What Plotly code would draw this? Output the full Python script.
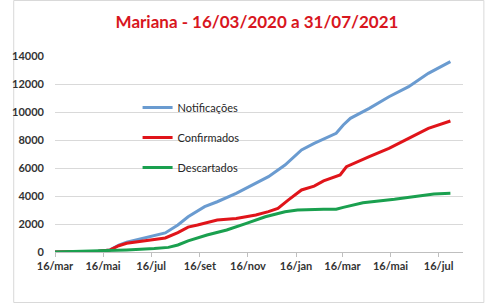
import plotly.graph_objects as go

# Notificações (blue)
dates_not = ["2020-03-16", "2020-05-10", "2020-05-25", "2020-06-05", "2020-06-15", "2020-07-13",
             "2020-08-03", "2020-08-19", "2020-09-01", "2020-09-22", "2020-10-08", "2020-11-01",
             "2020-11-17", "2020-12-12", "2021-01-02", "2021-01-23", "2021-02-08", "2021-02-20",
             "2021-03-08", "2021-03-17", "2021-03-26", "2021-04-19", "2021-05-14", "2021-06-08",
             "2021-07-03", "2021-07-31"]
notificacoes = [0, 60, 150, 500, 700, 1050,
                1360, 1930, 2520, 3240, 3590, 4190,
                4660, 5380, 6210, 7290, 7760, 8050,
                8480, 9070, 9550, 10260, 11090, 11810,
                12760, 13600]

# Confirmados (red)
dates_conf = ["2020-03-16", "2020-05-10", "2020-05-25", "2020-06-05", "2020-06-15", "2020-07-13",
              "2020-08-03", "2020-08-19", "2020-09-01", "2020-09-13", "2020-10-08", "2020-11-01",
              "2020-11-26", "2020-12-12", "2020-12-24", "2021-01-06", "2021-01-23", "2021-02-08",
              "2021-02-20", "2021-03-13", "2021-03-21", "2021-04-19", "2021-05-14", "2021-06-08",
              "2021-07-03", "2021-07-31"]
confirmados = [0, 50, 150, 450, 620, 810,
               1000, 1380, 1780, 1930, 2290, 2400,
               2640, 2880, 3120, 3710, 4430, 4710,
               5080, 5500, 6090, 6810, 7400, 8120,
               8830, 9360]

# Descartados (green)
dates_desc = ["2020-03-16", "2020-05-22", "2020-06-15", "2020-07-20", "2020-08-07", "2020-08-19",
              "2020-09-01", "2020-09-25", "2020-10-20", "2020-11-14", "2020-12-08", "2021-01-02",
              "2021-01-18", "2021-02-20", "2021-03-08", "2021-03-17", "2021-04-11", "2021-05-21",
              "2021-06-24", "2021-07-10", "2021-07-31"]
descartados = [0, 80, 150, 250, 330, 500,
               800, 1210, 1570, 2050, 2520, 2880,
               3000, 3050, 3050, 3190, 3520, 3760,
               4000, 4140, 4190]

tick_dates = ["2020-03-16", "2020-05-16", "2020-07-16", "2020-09-16", "2020-11-16",
              "2021-01-16", "2021-03-16", "2021-05-16", "2021-07-16"]
tick_labels = ["16/mar", "16/mai", "16/jul", "16/set", "16/nov", "16/jan", "16/mar", "16/mai", "16/jul"]

title_text = "Mariana - 16/03/2020 a 31/07/2021"

W, H = 485, 303
ml, mr, mt, mb = 43, 22, 56, 51
pw, ph = W - ml - mr, H - mt - mb

fig = go.Figure()
series = [
    ("Notificações", dates_not, notificacoes, "#6A9BD0"),
    ("Confirmados", dates_conf, confirmados, "#E0141A"),
    ("Descartados", dates_desc, descartados, "#1AA04F"),
]
for name, xs, ys, col in series:
    fig.add_trace(go.Scatter(x=xs, y=ys, mode="lines", name=name, legendgroup=name,
                             line=dict(color=col, width=3)))

fig.update_layout(
    width=W, height=H,
    margin=dict(l=ml, r=mr, t=mt, b=mb),
    paper_bgcolor="white", plot_bgcolor="white",
    font=dict(family="Lato, Open Sans, sans-serif", color="#404040"),
    title=dict(text=title_text, x=257 / W, xanchor="center", xref="container",
               y=1 - 22 / H, yanchor="middle", yref="container",
               font=dict(size=17, color="#D8161E", family="Lato, sans-serif", weight="bold")),
    showlegend=True,
    legend=dict(x=(128 - ml) / pw, xanchor="left", y=(252 - 93) / ph, yanchor="top",
                bgcolor="rgba(0,0,0,0)", font=dict(size=11, color="#262626"),
                tracegroupgap=11, itemwidth=30),
    xaxis=dict(range=["2020-03-16", "2021-08-16"], tickvals=tick_dates, ticktext=tick_labels,
               showgrid=False, showline=True, linecolor="#BFBFBF", linewidth=1,
               ticks="outside", ticklen=4, tickcolor="#BFBFBF",
               tickfont=dict(size=11, color="#333333", weight="bold"), zeroline=False),
    yaxis=dict(range=[0, 14000], dtick=2000, tickformat="d", showgrid=True, gridcolor="#D9D9D9",
               gridwidth=1, showline=False, zeroline=False, ticks="", ticklabelstandoff=10,
               tickfont=dict(size=11, color="#333333", weight="bold")),
)

fig.add_shape(type="rect", xref="paper", yref="paper",
              x0=(0.5 - ml) / pw, x1=(W - 0.5 - ml) / pw,
              y0=(H - mb - (H - 0.5)) / ph, y1=(H - mb - 0.5) / ph,
              line=dict(color="#D9D9D9", width=1), fillcolor="rgba(0,0,0,0)", layer="below")

fig.write_html("out.html")
